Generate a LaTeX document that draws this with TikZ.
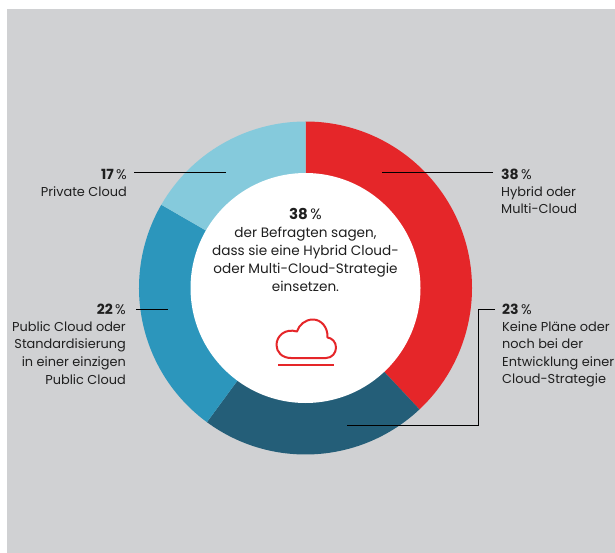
\documentclass[tikz,border=0pt]{standalone}
\usepackage{fontspec}
\setmainfont{Poppins}
\definecolor{bgc}{HTML}{D0D1D3}
\definecolor{redc}{HTML}{E52629}
\definecolor{darkc}{HTML}{245E78}
\definecolor{bluec}{HTML}{2C96BC}
\definecolor{lightc}{HTML}{85CADC}
\definecolor{inkc}{HTML}{1F1F1F}
\tikzset{
  pct/.style={font=\fontsize{14}{17.6}\selectfont\bfseries,text=inkc,inner sep=0pt},
  pctc/.style={font=\fontsize{15}{18}\selectfont\bfseries,text=inkc,inner sep=0pt},
  body/.style={font=\fontsize{12.9}{17.6}\selectfont,text=inkc,inner sep=0pt},
  bodyc/.style={font=\fontsize{13.6}{18}\selectfont,text=inkc,inner sep=0pt},
  lead/.style={draw=black,line width=1pt},
  icon/.style={draw=redc,line width=2pt,line cap=round,line join=round}
}
\begin{document}
\begin{tikzpicture}[x=1pt,y=-1pt]
\useasboundingbox (0,0) rectangle (615,553);
\fill[bgc] (7,9) rectangle (615,553);
\fill[redc] (305.5,288) -- ++(0,-166.5) arc[start angle=-90,end angle=46.8,radius=166.5] -- cycle;
\fill[darkc] (305.5,288) -- ++(46.8:166.5) arc[start angle=46.8,end angle=126.3,radius=166.5] -- cycle;
\fill[bluec] (305.5,288) -- ++(126.3:166.5) arc[start angle=126.3,end angle=210,radius=166.5] -- cycle;
\fill[lightc] (305.5,288) -- ++(210:166.5) arc[start angle=210,end angle=270,radius=166.5] -- cycle;
\fill[white] (305.5,288) circle[radius=115];
\node[pctc,anchor=base] (pc) at (305.5,219) {38\,{\mdseries\%}};
\node[bodyc,anchor=north,align=center] (tc) at (305.5,227) {der Befragten sagen,\\dass sie eine Hybrid Cloud-\\oder Multi-Cloud-Strategie\\einsetzen.};
\node[pct,anchor=base east] (p17) at (127,179.5) {17\,{\mdseries\%}};
\node[body,anchor=north east,align=right] (t17) at (127,186.3) {Private Cloud};
\node[pct,anchor=base west] (p38) at (501,179.5) {38\,{\mdseries\%}};
\node[body,anchor=north west,align=left] (t38) at (501,186.3) {Hybrid oder\\Multi-Cloud};
\node[pct,anchor=base east] (p22) at (126,314) {22\,{\mdseries\%}};
\node[body,anchor=north east,align=right] (t22) at (126,321.3) {Public Cloud oder\\Standardisierung\\in einer einzigen\\Public Cloud};
\node[pct,anchor=base west] (p23) at (502,314.5) {23\,{\mdseries\%}};
\node[body,anchor=north west,align=left] (t23) at (502,321) {Keine Pläne oder\\noch bei der\\Entwicklung einer\\Cloud-Strategie};
\coordinate (c17) at (226,173);
\coordinate (s17) at (134,173);
\coordinate (c38) at (382,173);
\coordinate (s38) at (493,173);
\coordinate (c22) at (168,309);
\coordinate (s22) at (136,309);
\coordinate (c23) at (347,425);
\coordinate (k23) at (478,425);
\coordinate (m23) at (478,309);
\coordinate (s23) at (495,309);
\draw[lead] (s17) -- (c17);
\draw[lead] (s38) -- (c38);
\draw[lead] (s22) -- (c22);
\draw[lead] (s23) -- (m23) -- (k23) -- (c23);
\draw[icon] (291,358) -- (326,358)
  .. controls (332,358) and (336,353) .. (336,347.5)
  .. controls (336,342) and (332,338) .. (327.5,337.5)
  .. controls (328,327) and (321,319.5) .. (313,319.5)
  .. controls (305,319.5) and (299,325) .. (297,331.5)
  .. controls (285,328) and (276.5,336) .. (276.5,345)
  .. controls (276.5,352) and (282,358) .. (291,358) -- cycle;
\draw[icon,line cap=butt] (278,365) -- (334,365);
\end{tikzpicture}
\end{document}
